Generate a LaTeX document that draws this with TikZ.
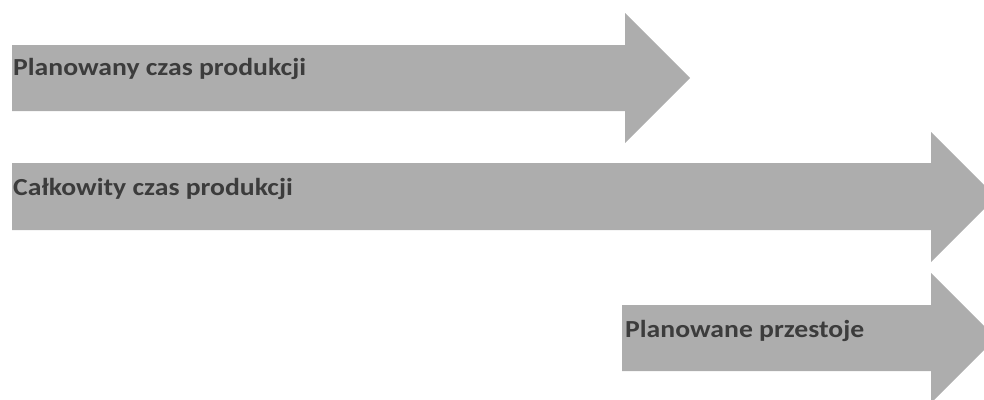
\documentclass[tikz,border=0pt]{standalone}
\usepackage{fontspec}
\setmainfont{Carlito}
\definecolor{arrowgray}{HTML}{ADADAD}
\definecolor{textgray}{HTML}{3C3C3C}
\newcommand{\widetext}[1]{\scalebox{1.13}[1]{#1}}
\tikzset{
  arrowshape/.style={fill=arrowgray, draw=none},
  label text/.style={anchor=base west, inner sep=0pt, text=textgray, font=\bfseries\fontsize{24.5}{28}\selectfont}
}
\begin{document}
\begin{tikzpicture}[x=1pt,y=-1pt]
\useasboundingbox (0,0) rectangle (984,399);
\clip (0,0) rectangle (984,399);
% arrow 1
\fill[arrowshape] (12,45) -- (625,45) -- (625,13) -- (690,78) -- (625,143) -- (625,111) -- (12,111) -- cycle;
% arrow 2
\fill[arrowshape] (12,163) -- (931,163) -- (931,132) -- (996,197) -- (931,262) -- (931,230) -- (12,230) -- cycle;
% arrow 3
\fill[arrowshape] (622,305) -- (931,305) -- (931,273) -- (996,338) -- (931,403) -- (931,371) -- (622,371) -- cycle;
\node[label text] (t1) at (13,75) {\widetext{Planowany czas produkcji}};
\node[label text] (t2) at (13,195) {\widetext{Całkowity czas produkcji}};
\node[label text] (t3) at (625,337) {\widetext{Planowane przestoje}};
\end{tikzpicture}
\end{document}
